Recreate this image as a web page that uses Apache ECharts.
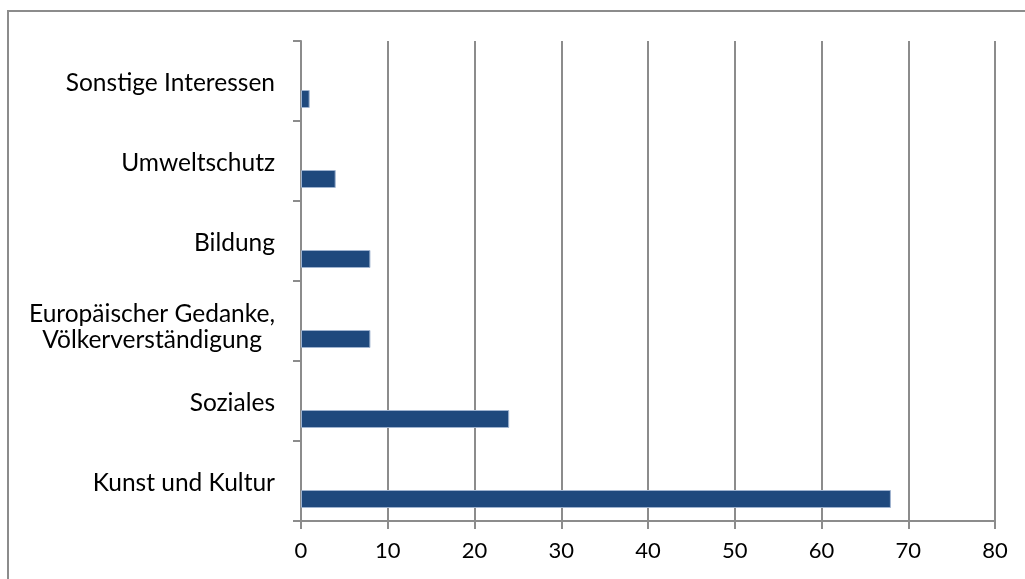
<!DOCTYPE html>
<html>
<head>
<meta charset="utf-8">
<script src="https://cdn.jsdelivr.net/npm/echarts@6/dist/echarts.min.js"></script>
<style>
  html, body { margin: 0; padding: 0; background: #fff; }
  #chart { width: 1025px; height: 579px; }
</style>
</head>
<body>
<div id="chart"></div>
<script>
// Categories listed bottom to top, as the value axis reads them
const categories = [
  'Kunst und Kultur',
  'Soziales',
  'Europäischer Gedanke,\nVölkerverständigung',
  'Bildung',
  'Umweltschutz',
  'Sonstige Interessen'
];
const counts = [68, 24, 8, 8, 4, 1];
const xTicks = [0, 10, 20, 30, 40, 50, 60, 70, 80];

const FONT = 'Lato';
const CAT_FONT_SIZE = 24.5;
const TICK_FONT_SIZE = 22;
const LINE_H = 26;
const GRAY = '#8c8c8c';

// Measure text so that lines of a wrapped label are centred within their block
const ctx = document.createElement('canvas').getContext('2d');
ctx.font = CAT_FONT_SIZE + 'px ' + FONT;
const rich = {};
function styleKey(extra, right) {
  const key = 's' + extra + '_' + right;
  if (!rich[key]) {
    rich[key] = {
      padding: [0, right, 0, 0], fontSize: CAT_FONT_SIZE, fontFamily: FONT,
      color: '#000', lineHeight: LINE_H + extra, verticalAlign: 'bottom'
    };
  }
  return key;
}
function labelFormatter(value) {
  const lines = value.split('\n');
  const widths = lines.map(l => ctx.measureText(l).width);
  const maxW = Math.max.apply(null, widths);
  const extra = lines.length > 1 ? 12 : 4;
  return lines.map((l, i) => {
    const pad = Math.round((maxW - widths[i]) / 2);
    return '{' + styleKey(i === 0 ? extra : 0, pad) + '|' + l + '}';
  }).join('\n');
}
// Pre-build the rich styles used by the labels
categories.forEach(labelFormatter);

const chart = echarts.init(document.getElementById('chart'), null, { renderer: 'canvas' });
chart.setOption({
  animation: false,
  backgroundColor: '#fff',
  graphic: [{
    type: 'rect',
    shape: { x: 8, y: 11, width: 1200, height: 800 },
    style: { fill: 'none', stroke: GRAY, lineWidth: 2 },
    silent: true
  }],
  grid: { left: 301, right: 30, top: 41, bottom: 58, containLabel: false },
  xAxis: {
    type: 'value',
    min: xTicks[0],
    max: xTicks[xTicks.length - 1],
    interval: xTicks[1] - xTicks[0],
    axisLine: { show: true, lineStyle: { color: GRAY, width: 2 } },
    axisTick: { show: true, length: 8, lineStyle: { color: GRAY, width: 2 } },
    splitLine: { show: true, lineStyle: { color: GRAY, width: 2 } },
    axisLabel: { margin: 19, fontFamily: FONT, fontSize: TICK_FONT_SIZE, color: '#000' }
  },
  yAxis: {
    type: 'category',
    data: categories,
    axisLine: { show: true, lineStyle: { color: GRAY, width: 2 } },
    axisTick: { show: true, length: 8, lineStyle: { color: GRAY, width: 2 } },
    axisLabel: {
      margin: 26, fontFamily: FONT, fontSize: CAT_FONT_SIZE, color: '#000',
      lineHeight: LINE_H, formatter: labelFormatter, rich: rich
    }
  },
  series: [
    { type: 'bar', name: 'Reihe 3', data: [], barWidth: 18, barGap: '0%' },
    { type: 'bar', name: 'Reihe 2', data: [], barWidth: 18, barGap: '0%' },
    {
      type: 'bar', name: 'Anzahl', data: counts, barWidth: 18, barGap: '0%',
      itemStyle: { color: '#1f497d', borderColor: '#9fb3cf', borderWidth: 1 }
    }
  ]
});
</script>
</body>
</html>
